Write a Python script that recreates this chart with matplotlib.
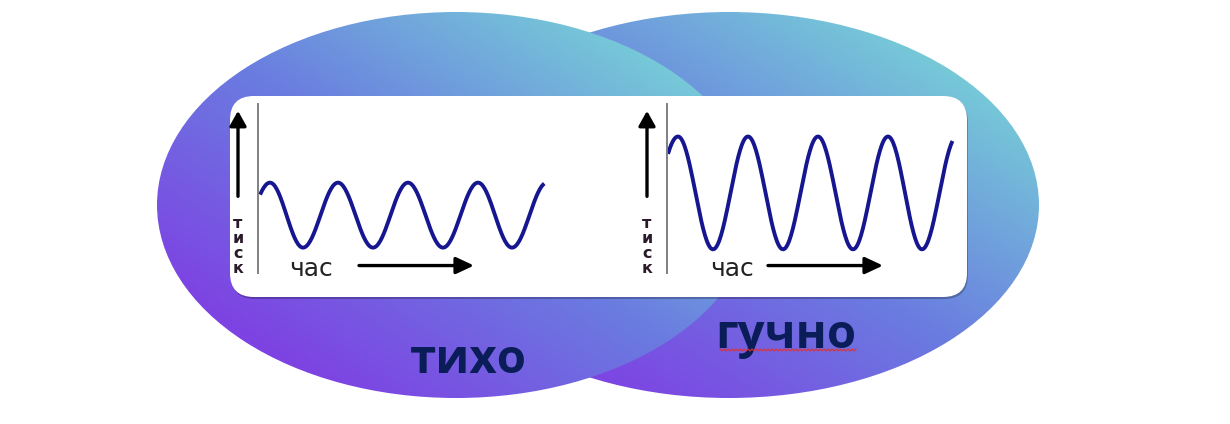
import numpy as np
import matplotlib.pyplot as plt
from matplotlib.patches import Ellipse, FancyBboxPatch
from matplotlib.colors import LinearSegmentedColormap

plt.rcParams['font.family'] = ['Open Sans', 'DejaVu Sans']

# wave extrema: time (x) and pressure (y)
quiet_t = [-2.3, 1.2, 4.5, 8.0, 11.5, 15.0, 18.5, 22.0, 25.4, 28.9]
quiet_p = [1.6, 5.4, 1.6, 5.4, 1.6, 5.4, 1.6, 5.4, 1.6, 5.4]
loud_t = [-2.8, 1.1, 4.6, 8.1, 11.6, 15.1, 18.6, 22.1, 25.5, 29.0]
loud_p = [1.5, 8.1, 1.5, 8.1, 1.5, 8.1, 1.5, 8.1, 1.5, 8.1]
wave_start = [0.2, 0.1]
wave_end = [28.7, 28.6]
time_label_t = [5.3, 6.5]
axis_label_y = 'т\nи\nс\nк'
axis_label_x = 'час'
titles = ['тихо', 'гучно']

W, H = 1230, 424
fig = plt.figure(figsize=(W / 100, H / 100), dpi=100, facecolor='white')
bg = fig.add_axes([0, 0, 1, 1])
bg.set_xlim(0, W)
bg.set_ylim(H, 0)
bg.axis('off')

cmap = LinearSegmentedColormap.from_list(
    'grad', [(0.0, '#8636E8'), (0.15, '#7E42E3'), (0.5, '#6A7CE0'),
             (0.85, '#76C8D8'), (1.0, '#7DD3D6')])


def gradient_ellipse(cx, cy, a, b, z):
    u = np.linspace(0, 1, 400)
    v = np.linspace(1, 0, 300)
    uu, vv = np.meshgrid(u, v)
    img = cmap((uu + vv) / 2)
    e = Ellipse((cx, cy), 2 * a, 2 * b, facecolor='none', edgecolor='none')
    bg.add_patch(e)
    im = bg.imshow(img, extent=(cx - a, cx + a, cy + b, cy - b),
                   origin='upper', zorder=z, interpolation='bilinear', aspect='auto')
    im.set_clip_path(e)


gradient_ellipse(729, 205, 310, 193, 1)
gradient_ellipse(456, 205, 299, 193, 2)
bg.set_xlim(0, W)
bg.set_ylim(H, 0)

# white card with a faint shadow
shadow = FancyBboxPatch((231, 98), 737, 201, boxstyle='round,pad=0,rounding_size=24',
                        facecolor='black', alpha=0.25, edgecolor='none', zorder=3)
card = FancyBboxPatch((230, 96), 737, 201, boxstyle='round,pad=0,rounding_size=24',
                      facecolor='white', edgecolor='none', zorder=4)
bg.add_patch(shadow)
bg.add_patch(card)


def smooth(ts, ps, n=40):
    xs, ys = [], []
    for i in range(len(ts) - 1):
        s = np.linspace(0, 1, n)
        xs.append(ts[i] + (ts[i + 1] - ts[i]) * s)
        ys.append(ps[i] + (ps[i + 1] - ps[i]) * (1 - np.cos(np.pi * s)) / 2)
    return np.concatenate(xs), np.concatenate(ys)


panels = [(228, quiet_t, quiet_p), (637, loud_t, loud_p)]
for k, (px, ts, ps) in enumerate(panels):
    ax = fig.add_axes([px / W, (H - 297) / H, 332 / W, 201 / H])
    ax.set_xlim(-3.0, 30.2)
    ax.set_ylim(-1.29, 10.47)
    ax.axis('off')
    ax.patch.set_alpha(0)
    ax.set_zorder(5)

    x, y = smooth(ts, ps)
    m = (x >= wave_start[k]) & (x <= wave_end[k])
    ax.plot(x[m], y[m], color='#161690', lw=2.8, solid_capstyle='butt')

    ax.plot([0, 0], [0.1, 10.0], color='#808080', lw=1.4)
    ax.annotate('', xy=(-2.0, 9.6), xytext=(-2.0, 4.6),
                arrowprops=dict(arrowstyle='-|>,head_length=0.5,head_width=0.28',
                                lw=2.4, color='black',
                                mutation_scale=18, shrinkA=0, shrinkB=0))
    ax.annotate('', xy=(21.6, 0.55), xytext=(10.1, 0.55),
                arrowprops=dict(arrowstyle='-|>,head_length=0.6,head_width=0.28',
                                lw=2.4, color='black',
                                mutation_scale=18, shrinkA=0, shrinkB=0))
    ax.text(-2.0, 1.7, axis_label_y, ha='center', va='center', fontsize=11.5,
            linespacing=1.0, color='#2a1a2a', family='DejaVu Sans',
            fontweight='bold')
    ax.text(time_label_t[k], 0.35, axis_label_x, ha='center', va='center',
            fontsize=18, color='#222222', family='DejaVu Sans')

# captions below the card
bg.text(468, 373, titles[0], ha='center', va='baseline', fontsize=34,
        fontweight='bold', color='#0A1D58', zorder=6)
bg.text(786, 348, titles[1], ha='center', va='baseline', fontsize=34,
        fontweight='bold', color='#0A1D58', zorder=6)

# spell-check squiggle under the second caption
zx = np.arange(720, 857, 2)
zy = 350 + np.where(np.arange(len(zx)) % 2 == 0, -1.0, 1.0)
bg.plot(zx, zy, color='#E03030', lw=0.8, zorder=6)

fig.savefig('out.png', dpi=100, facecolor='white')
